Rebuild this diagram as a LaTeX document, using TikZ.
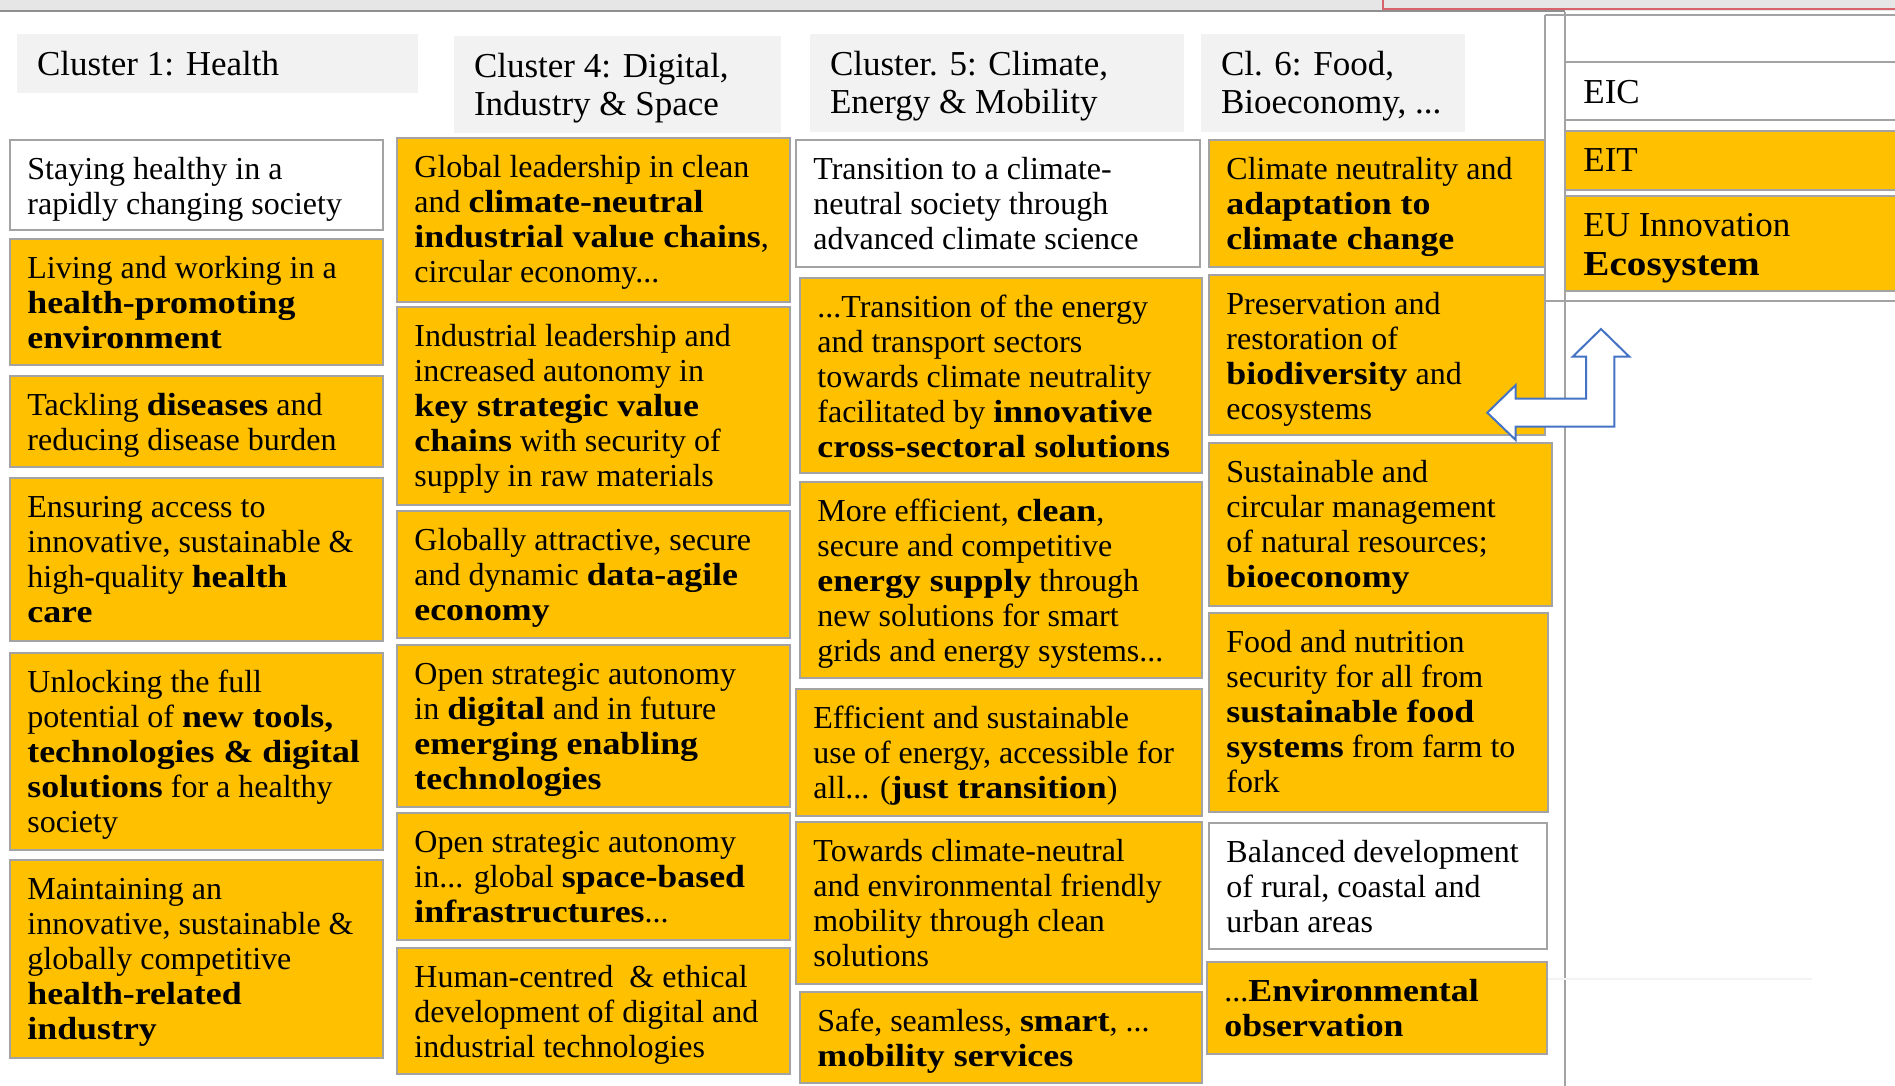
\documentclass[tikz,border=0pt]{standalone}
\usepackage{fontspec}
\setmainfont{Liberation Serif}[BoldFeatures={FakeStretch=1.12}]
\usetikzlibrary{fit,calc}
\definecolor{yel}{HTML}{FFC000}
\definecolor{hdrgray}{HTML}{F2F2F2}
\definecolor{bordergray}{HTML}{A3A3A3}
\definecolor{bandgray}{HTML}{E6E6E6}
\definecolor{bandline}{HTML}{8F8F8F}
\definecolor{redline}{HTML}{D9636C}
\definecolor{arrowblue}{HTML}{4472C4}
\definecolor{faintgray}{HTML}{F3F3F3}
\tikzset{
  cellbox/.style={draw=bordergray, line width=1pt, inner sep=0pt},
  ybox/.style={cellbox, fill=yel},
  wbox/.style={cellbox, fill=white},
  hdrbox/.style={fill=hdrgray, inner sep=0pt, draw=none},
  txt/.style={inner sep=0pt, align=left, anchor=north west, font=\fontsize{16pt}{17.5pt}\selectfont},
  htxt/.style={inner sep=0pt, align=left, anchor=north west, font=\fontsize{17.5pt}{19pt}\selectfont},
  rtxt/.style={inner sep=0pt, align=left, anchor=north west, font=\fontsize{17.5pt}{19.5pt}\selectfont},
  frameline/.style={draw=bordergray, line width=1pt},
}
\newcommand{\cellnode}[7]{%
  \node[#2, fit={(#3,#4)(#5,#6)}] (#1) {};
  \node[txt] (#1t) at ([xshift=9pt,yshift=-7.6pt]#1.north west) {\strut #7};
}
\newcommand{\hdrnode}[6]{%
  \node[hdrbox, fit={(#2,#3)(#4,#5)}] (#1) {};
  \node[htxt] (#1t) at ([xshift=10pt,yshift=-7.7pt]#1.north west) {\strut #6};
}
\begin{document}
\begin{tikzpicture}[x=0.5pt,y=-0.5pt]
\useasboundingbox (0,0) rectangle (1895,1086);
\clip (0,0) rectangle (1895,1086);
\fill[white] (0,0) rectangle (1895,1086);
% top band
\fill[bandgray] (0,0) rectangle (1895,11);
\draw[bandline, line width=1pt] (0,11.5) -- (1565,11.5);
\draw[redline, line width=1pt] (1383,-2) -- (1383,9.5) -- (1900,9.5);
% frame lines
\draw[frameline] (1545,15) -- (1900,15);
\draw[frameline] (1545,15) -- (1545,435);
\draw[frameline] (1565,12) -- (1565,1090);
\draw[frameline] (1545,301) -- (1900,301);
\draw[faintgray, line width=0.6pt] (1547,979) -- (1812,979);

% headers
\hdrnode{h1}{17}{34}{418}{93}{Cluster 1: Health}
\hdrnode{h4}{454}{36}{781}{133}{Cluster 4: Digital,\\Industry \& Space}
\hdrnode{h5}{810}{34}{1184}{132}{Cluster. 5: Climate,\\Energy \& Mobility}
\hdrnode{h6}{1201}{34}{1465}{132}{Cl. 6: Food,\\Bioeconomy, ...}

% column 1
\cellnode{b1}{wbox}{10}{140}{383}{230}{Staying healthy in a\\rapidly changing society}
\cellnode{b2}{ybox}{10}{239}{383}{365}{Living and working in a\\\textbf{health-promoting}\\\textbf{environment}}
\cellnode{b3}{ybox}{10}{376}{383}{467}{Tackling \textbf{diseases} and\\reducing disease burden}
\cellnode{b4}{ybox}{10}{478}{383}{641}{Ensuring access to\\innovative, sustainable \&\\high-quality \textbf{health}\\\textbf{care}}
\cellnode{b5}{ybox}{10}{653}{383}{850}{Unlocking the full\\potential of \textbf{new tools,}\\\textbf{technologies \& digital}\\\textbf{solutions} for a healthy\\society}
\cellnode{b6}{ybox}{10}{860}{383}{1058}{Maintaining an\\innovative, sustainable \&\\globally competitive\\\textbf{health-related}\\\textbf{industry}}

% column 2
\cellnode{c1}{ybox}{397}{138}{790}{302}{Global leadership in clean\\and \textbf{climate-neutral}\\\textbf{industrial value chains},\\circular economy...}
\cellnode{c2}{ybox}{397}{307}{790}{505}{Industrial leadership and\\increased autonomy in\\\textbf{key strategic value}\\\textbf{chains} with security of\\supply in raw materials}
\cellnode{c3}{ybox}{397}{511}{790}{638}{Globally attractive, secure\\and dynamic \textbf{data-agile}\\\textbf{economy}}
\cellnode{c4}{ybox}{397}{645}{790}{807}{Open strategic autonomy\\in \textbf{digital} and in future\\\textbf{emerging enabling}\\\textbf{technologies}}
\cellnode{c5}{ybox}{397}{813}{790}{940}{Open strategic autonomy\\in... global \textbf{space-based}\\\textbf{infrastructures}...}
\cellnode{c6}{ybox}{397}{948}{790}{1074}{Human-centred~ \& ethical\\development of digital and\\industrial technologies}

% column 3
\cellnode{d1}{wbox}{796}{140}{1200}{267}{Transition to a climate-\\neutral society through\\advanced climate science}
\cellnode{d2}{ybox}{800}{278}{1202}{473}{...Transition of the energy\\and transport sectors\\towards climate neutrality\\facilitated by \textbf{innovative}\\\textbf{cross-sectoral solutions}}
\cellnode{d3}{ybox}{800}{482}{1202}{678}{More efficient, \textbf{clean},\\secure and competitive\\\textbf{energy supply} through\\new solutions for smart\\grids and energy systems...}
\cellnode{d4}{ybox}{796}{689}{1202}{816}{Efficient and sustainable\\use of energy, accessible for\\all... (\textbf{just transition})}
\cellnode{d5}{ybox}{796}{822}{1202}{984}{Towards climate-neutral\\and environmental friendly\\mobility through clean\\solutions}
\cellnode{d6}{ybox}{800}{992}{1202}{1083}{Safe, seamless, \textbf{smart}, ...\\\textbf{mobility services}}

% column 4
\cellnode{e1}{ybox}{1209}{140}{1545}{267}{Climate neutrality and\\\textbf{adaptation to}\\\textbf{climate change}}
\cellnode{e2}{ybox}{1209}{275}{1545}{435}{Preservation and\\restoration of\\\textbf{biodiversity} and\\ecosystems}
\cellnode{e3}{ybox}{1209}{443}{1552}{606}{Sustainable and\\circular management\\of natural resources;\\\textbf{bioeconomy}}
\cellnode{e4}{ybox}{1209}{613}{1548}{812}{Food and nutrition\\security for all from\\\textbf{sustainable food}\\\textbf{systems} from farm to\\fork}
\cellnode{e5}{wbox}{1209}{823}{1547}{949}{Balanced development\\of rural, coastal and\\urban areas}
\cellnode{e6}{ybox}{1207}{962}{1547}{1054}{...\textbf{Environmental}\\\textbf{observation}}

% right panel
\draw[frameline] (1565,62) -- (1900,62);
\node[wbox, fit={(1565,62)(1905,120)}] (eic) {};
\node[rtxt] (eict) at ([xshift=9.5pt,yshift=-7.2pt]eic.north west) {\strut EIC};
\node[ybox, fit={(1565,131)(1905,190)}] (eit) {};
\node[rtxt] (eitt) at ([xshift=9.5pt,yshift=-7pt]eit.north west) {\strut EIT};
\node[ybox, fit={(1565,196)(1905,291)}] (eu) {};
\node[rtxt] (eut) at ([xshift=9.5pt,yshift=-7pt]eu.north west) {\strut EU Innovation\\\textbf{Ecosystem}};

% bent arrow
\draw[arrowblue, line width=1pt, fill=white, line join=miter]
  (1487.3,412.7) -- (1515.7,385) -- (1515.7,398.7) -- (1586,398.7) -- (1586,356.7)
  -- (1572.7,356.7) -- (1601,329) -- (1629.3,356.7) -- (1614.3,356.7) -- (1614.3,426.7)
  -- (1515.7,426.7) -- (1515.7,440) -- cycle;
\end{tikzpicture}
\end{document}
